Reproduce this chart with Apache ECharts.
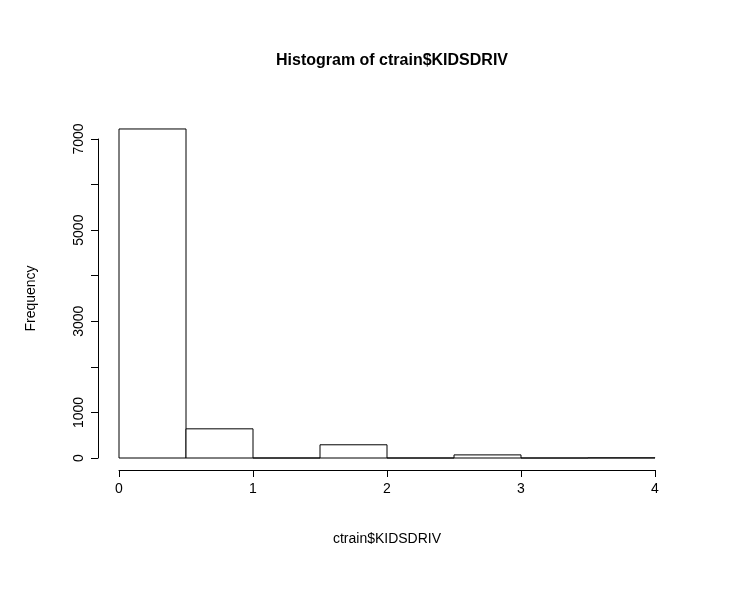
<!DOCTYPE html>
<html><head><meta charset="utf-8">
<script src="https://cdn.jsdelivr.net/npm/echarts@6/dist/echarts.min.js"></script>
<style>html,body{margin:0;padding:0;background:#fff}#c{width:737px;height:607px}</style>
</head><body><div id="c"></div>
<script>
const binStarts = [0, 0.5, 1, 1.5, 2, 2.5, 3, 3.5];
const binWidth = 0.5;
const counts = [7220, 640, 0, 290, 0, 68, 0, 4];
const yTickLabels = [0, 1000, 3000, 5000, 7000];
const xTickLabels = [0, 1, 2, 3, 4];
const data = binStarts.map((s, i) => [s, s + binWidth, counts[i]]);
const F = 'Liberation Sans, Arial, sans-serif';
const chart = echarts.init(document.getElementById('c'));
chart.setOption({
  animation: false,
  title: {text: 'Histogram of ctrain$KIDSDRIV', left: 387, top: 48, textAlign: 'center',
    textStyle: {fontFamily: F, fontSize: 16, fontWeight: 'bold', color: '#000'}},
  grid: {left: 119, right: 82, top: 139, bottom: 149},
  xAxis: {type: 'value', min: 0, max: 4, interval: 1, offset: 12,
    name: 'ctrain$KIDSDRIV', nameLocation: 'middle', nameGap: 62,
    nameTextStyle: {fontFamily: F, fontSize: 14, color: '#000'},
    axisLine: {onZero: false, lineStyle: {color: '#000'}}, axisTick: {length: 7, lineStyle: {color: '#000'}},
    axisLabel: {fontFamily: F, fontSize: 14, color: '#000', margin: 12,
      formatter: v => xTickLabels.includes(v) ? String(v) : ''},
    splitLine: {show: false}},
  yAxis: {type: 'value', min: 0, max: 7000, interval: 1000, offset: 21,
    name: 'Frequency', nameLocation: 'middle', nameGap: 60, nameRotate: 90,
    nameTextStyle: {fontFamily: F, fontSize: 14, color: '#000'},
    axisLine: {show: true, onZero: false, lineStyle: {color: '#000'}}, axisTick: {show: true, length: 7, lineStyle: {color: '#000'}},
    axisLabel: {fontFamily: F, fontSize: 14, color: '#000', rotate: 90, margin: 12,
      formatter: v => yTickLabels.includes(v) ? String(v) : ''},
    splitLine: {show: false}},
  series: [{type: 'custom', clip: false, data: data,
    renderItem: (params, api) => {
      const p0 = api.coord([api.value(0), 0]);
      const p1 = api.coord([api.value(1), api.value(2)]);
      return {type: 'rect', shape: {x: p0[0], y: p1[1], width: p1[0] - p0[0], height: p0[1] - p1[1]},
        style: {fill: '#fff', stroke: '#000', lineWidth: 1}};
    }}]
});
</script></body></html>
